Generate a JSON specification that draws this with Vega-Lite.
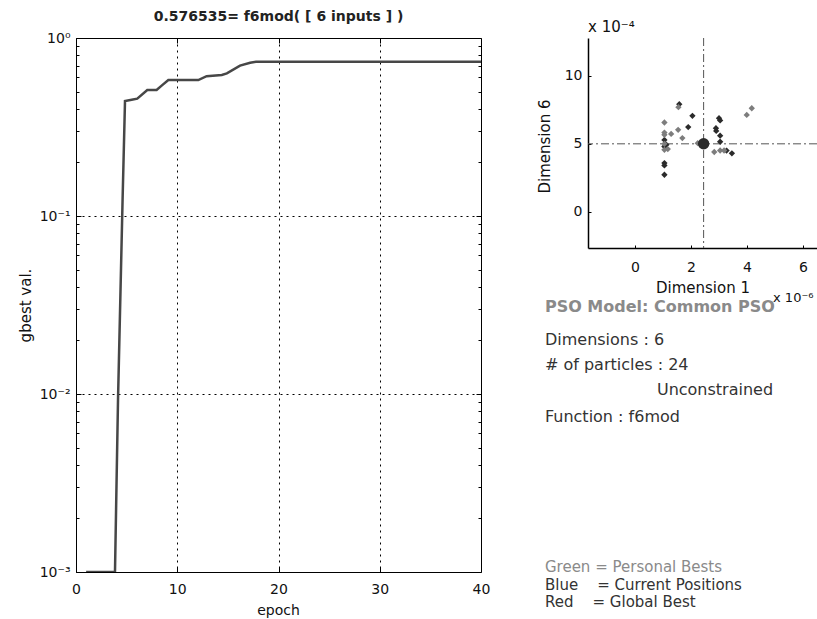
{
  "$schema": "https://vega.github.io/schema/vega-lite/v6.json",
  "autosize": {"type": "none"},
  "padding": {"left": 76, "top": 38, "right": 741, "bottom": 581},
  "background": "white",
  "config": {
    "view": {"stroke": null},
    "font": "DejaVu Sans",
    "axis": {"labelFont": "DejaVu Sans", "titleFont": "DejaVu Sans", "labelColor": "#111", "titleColor": "#111", "titleFontWeight": "normal", "domainColor": "#000", "tickColor": "#000", "labelFlush": false}
  },
  "datasets": {
    "gbest": [
      {"epoch": 1, "gbest": 0.001}, {"epoch": 2, "gbest": 0.001}, {"epoch": 3, "gbest": 0.001}, {"epoch": 3.85, "gbest": 0.001},
      {"epoch": 4.15, "gbest": 0.0093}, {"epoch": 4.6, "gbest": 0.123}, {"epoch": 4.84, "gbest": 0.443},
      {"epoch": 5.5, "gbest": 0.45}, {"epoch": 6.05, "gbest": 0.456}, {"epoch": 7.04, "gbest": 0.51}, {"epoch": 7.96, "gbest": 0.51},
      {"epoch": 8.46, "gbest": 0.54}, {"epoch": 9.12, "gbest": 0.58}, {"epoch": 12.08, "gbest": 0.58}, {"epoch": 12.9, "gbest": 0.61},
      {"epoch": 14.4, "gbest": 0.62}, {"epoch": 14.9, "gbest": 0.633}, {"epoch": 16.2, "gbest": 0.70}, {"epoch": 17.2, "gbest": 0.726},
      {"epoch": 17.8, "gbest": 0.736}, {"epoch": 40, "gbest": 0.736}
    ],
    "swarm": [
      {"d1": 1.58, "d6": 7.92, "kind": "current"}, {"d1": 2.05, "d6": 7.06, "kind": "current"}, {"d1": 1.90, "d6": 6.23, "kind": "current"},
      {"d1": 3.00, "d6": 6.89, "kind": "current"}, {"d1": 3.04, "d6": 6.72, "kind": "current"}, {"d1": 2.89, "d6": 6.15, "kind": "current"},
      {"d1": 2.90, "d6": 5.95, "kind": "current"}, {"d1": 3.04, "d6": 5.60, "kind": "current"}, {"d1": 3.04, "d6": 5.15, "kind": "current"},
      {"d1": 1.05, "d6": 5.29, "kind": "current"}, {"d1": 1.12, "d6": 4.93, "kind": "current"}, {"d1": 1.05, "d6": 3.58, "kind": "current"},
      {"d1": 1.05, "d6": 3.41, "kind": "current"}, {"d1": 1.05, "d6": 2.72, "kind": "current"}, {"d1": 3.27, "d6": 4.50, "kind": "current"},
      {"d1": 3.46, "d6": 4.30, "kind": "current"}, {"d1": 1.05, "d6": 4.80, "kind": "current"},
      {"d1": 1.05, "d6": 6.57, "kind": "personal"}, {"d1": 1.05, "d6": 5.83, "kind": "personal"}, {"d1": 1.05, "d6": 5.66, "kind": "personal"},
      {"d1": 1.29, "d6": 5.73, "kind": "personal"}, {"d1": 1.54, "d6": 6.03, "kind": "personal"}, {"d1": 1.69, "d6": 5.42, "kind": "personal"},
      {"d1": 1.55, "d6": 7.70, "kind": "personal"}, {"d1": 3.99, "d6": 7.13, "kind": "personal"}, {"d1": 4.17, "d6": 7.62, "kind": "personal"},
      {"d1": 1.05, "d6": 4.56, "kind": "personal"}, {"d1": 1.17, "d6": 4.61, "kind": "personal"}, {"d1": 2.83, "d6": 4.40, "kind": "personal"},
      {"d1": 3.04, "d6": 4.51, "kind": "personal"}, {"d1": 3.18, "d6": 4.51, "kind": "personal"}, {"d1": 2.24, "d6": 5.05, "kind": "personal"},
      {"d1": 1.05, "d6": 5.00, "kind": "personal"}
    ],
    "best": [{"d1": 2.45, "d6": 5.0}],
    "notes": [
      {"kind": "exponent", "text": "x 10⁻⁶", "row": 2.02, "col": 8.08},
      {"kind": "heading", "text": "PSO Model: Common PSO", "row": 2.39, "col": -1.88},
      {"kind": "info", "text": "Dimensions : 6", "row": 3.72, "col": -1.88},
      {"kind": "info", "text": "# of particles : 24", "row": 4.73, "col": -1.88},
      {"kind": "info", "text": "Unconstrained", "row": 5.74, "col": 3.01},
      {"kind": "info", "text": "Function : f6mod", "row": 6.83, "col": -1.88},
      {"kind": "legendPersonal", "text": "Green = Personal Bests", "row": 12.90, "col": -1.88},
      {"kind": "legend", "text": "Blue\u00a0\u00a0\u00a0\u00a0= Current Positions", "row": 13.63, "col": -1.88},
      {"kind": "legend", "text": "Red\u00a0\u00a0\u00a0\u00a0= Global Best", "row": 14.31, "col": -1.88}
    ]
  },
  "bounds": "flush",
  "spacing": 107,
  "hconcat": [
    {
      "width": 405,
      "height": 534,
      "title": {"text": "0.576535= f6mod( [ 6 inputs ] )", "fontSize": 14, "fontWeight": "bold", "color": "#222", "anchor": "middle", "offset": 7, "font": "DejaVu Sans"},
      "view": {"stroke": "#000", "strokeWidth": 1},
      "data": {"name": "gbest"},
      "layer": [
        {
          "mark": {"type": "line", "color": "#474747", "strokeWidth": 2.5, "clip": true},
          "encoding": {
            "x": {"field": "epoch", "type": "quantitative", "scale": {"domain": [0, 40], "nice": false, "zero": false},
              "axis": {"orient": "bottom", "values": [0, 10, 20, 30, 40], "grid": true, "gridDash": [2, 4], "gridColor": "#000", "gridOpacity": 1, "domain": false, "tickSize": -5, "labelPadding": 15, "labelFontSize": 14, "title": "epoch", "titleFontSize": 14, "titleX": 202, "titleY": 38, "titleBaseline": "middle"}},
            "y": {"field": "gbest", "type": "quantitative", "scale": {"type": "log", "domain": [0.001, 1], "nice": false},
              "axis": {"orient": "left", "values": [0.001, 0.01, 0.1, 1], "labelExpr": "datum.value >= 0.5 ? '10⁰' : datum.value >= 0.05 ? '10⁻¹' : datum.value >= 0.005 ? '10⁻²' : '10⁻³'", "grid": true, "gridDash": [2, 4], "gridColor": "#000", "gridOpacity": 1, "domain": false, "tickSize": -5, "labelPadding": 11, "labelFontSize": 14, "title": "gbest val.", "titleFontSize": 15, "titleX": -51, "titleY": 267, "titleBaseline": "middle"}}
          }
        },
        {
          "mark": {"type": "line", "opacity": 0},
          "encoding": {
            "x": {"field": "epoch", "type": "quantitative", "axis": {"orient": "top", "values": [10, 20, 30], "labels": false, "grid": false, "domain": false, "tickSize": -5, "title": null}},
            "y": {"field": "gbest", "type": "quantitative", "axis": {"orient": "right", "values": [0.01, 0.1], "labels": false, "grid": false, "domain": false, "tickSize": -5, "title": null}}
          }
        },
        {
          "mark": {"type": "line", "opacity": 0},
          "encoding": {
            "x": {"field": "epoch", "type": "quantitative", "axis": null},
            "y": {"field": "gbest", "type": "quantitative", "axis": {"orient": "left", "values": [0.002, 0.003, 0.004, 0.005, 0.006, 0.007, 0.008, 0.009, 0.02, 0.03, 0.04, 0.05, 0.06, 0.07, 0.08, 0.09, 0.2, 0.3, 0.4, 0.5, 0.6, 0.7, 0.8, 0.9], "labels": false, "grid": false, "domain": false, "tickSize": -3, "title": null}}
          }
        },
        {
          "mark": {"type": "line", "opacity": 0},
          "encoding": {
            "x": {"field": "epoch", "type": "quantitative", "axis": null},
            "y": {"field": "gbest", "type": "quantitative", "axis": {"orient": "right", "values": [0.002, 0.003, 0.004, 0.005, 0.006, 0.007, 0.008, 0.009, 0.02, 0.03, 0.04, 0.05, 0.06, 0.07, 0.08, 0.09, 0.2, 0.3, 0.4, 0.5, 0.6, 0.7, 0.8, 0.9], "labels": false, "grid": false, "domain": false, "tickSize": -3, "title": null}}
          }
        }
      ],
      "resolve": {"axis": {"x": "independent", "y": "independent"}}
    },
    {
      "bounds": "flush",
      "spacing": 0,
      "vconcat": [
        {
          "width": 229,
          "height": 210,
          "title": {"text": "x 10⁻⁴", "anchor": "start", "frame": "group", "fontSize": 15, "fontWeight": "normal", "offset": 3, "color": "#111", "font": "DejaVu Sans"},
          "layer": [
            {
              "data": {"name": "best"},
              "mark": {"type": "rule", "color": "#555", "strokeWidth": 1, "strokeDash": [8, 3, 2, 3]},
              "encoding": {
                "x": {"field": "d1", "type": "quantitative", "scale": {"domain": [-1.68, 6.5], "nice": false, "zero": false},
                  "axis": {"orient": "bottom", "values": [0, 2, 4, 6], "tickSize": -3, "labelPadding": 15, "labelFontSize": 14, "domainWidth": 1.5, "grid": false, "title": "Dimension 1", "titleFontSize": 15, "titleY": 39, "titleBaseline": "middle"}}
              }
            },
            {
              "data": {"name": "best"},
              "mark": {"type": "rule", "color": "#555", "strokeWidth": 1, "strokeDash": [8, 3, 2, 3]},
              "encoding": {
                "y": {"field": "d6", "type": "quantitative", "scale": {"domain": [-2.67, 12.79], "nice": false, "zero": false},
                  "axis": {"orient": "left", "values": [0, 5, 10], "tickSize": -3, "labelPadding": 9, "labelFontSize": 14, "domainWidth": 1.5, "grid": false, "title": "Dimension 6", "titleFontSize": 15, "titleX": -43.5, "titleY": 108, "titleBaseline": "middle"}}
              }
            },
            {
              "data": {"name": "swarm"},
              "mark": {"type": "point", "shape": "diamond", "filled": true, "size": 40, "opacity": 1},
              "encoding": {
                "x": {"field": "d1", "type": "quantitative"},
                "y": {"field": "d6", "type": "quantitative"},
                "color": {"field": "kind", "type": "nominal", "scale": {"domain": ["personal", "current"], "range": ["#7d7d7d", "#2b2b2b"]}, "legend": null}
              }
            },
            {
              "data": {"name": "best"},
              "mark": {"type": "circle", "size": 130, "color": "#2b2b2b", "opacity": 1},
              "encoding": {
                "x": {"field": "d1", "type": "quantitative"},
                "y": {"field": "d6", "type": "quantitative"}
              }
            }
          ]
        },
        {
          "width": 229,
          "height": 371,
          "data": {"name": "notes"},
          "encoding": {
            "x": {"field": "col", "type": "quantitative", "scale": {"domain": [0, 10], "nice": false, "zero": false}, "axis": null},
            "y": {"field": "row", "type": "quantitative", "scale": {"domain": [0, 15], "nice": false, "zero": false, "reverse": true}, "axis": null},
            "text": {"field": "text", "type": "nominal"}
          },
          "layer": [
            {"transform": [{"filter": "datum.kind == 'heading'"}], "mark": {"type": "text", "align": "left", "baseline": "middle", "fontSize": 16, "fontWeight": "bold", "color": "#8a8a8a"}},
            {"transform": [{"filter": "datum.kind == 'info'"}], "mark": {"type": "text", "align": "left", "baseline": "middle", "fontSize": 16, "color": "#333"}},
            {"transform": [{"filter": "datum.kind == 'exponent'"}], "mark": {"type": "text", "align": "left", "baseline": "middle", "fontSize": 13, "color": "#111"}},
            {"transform": [{"filter": "datum.kind == 'legendPersonal'"}], "mark": {"type": "text", "align": "left", "baseline": "middle", "fontSize": 15, "color": "#8a8a8a"}},
            {"transform": [{"filter": "datum.kind == 'legend'"}], "mark": {"type": "text", "align": "left", "baseline": "middle", "fontSize": 15, "color": "#333"}}
          ]
        }
      ]
    }
  ]
}
